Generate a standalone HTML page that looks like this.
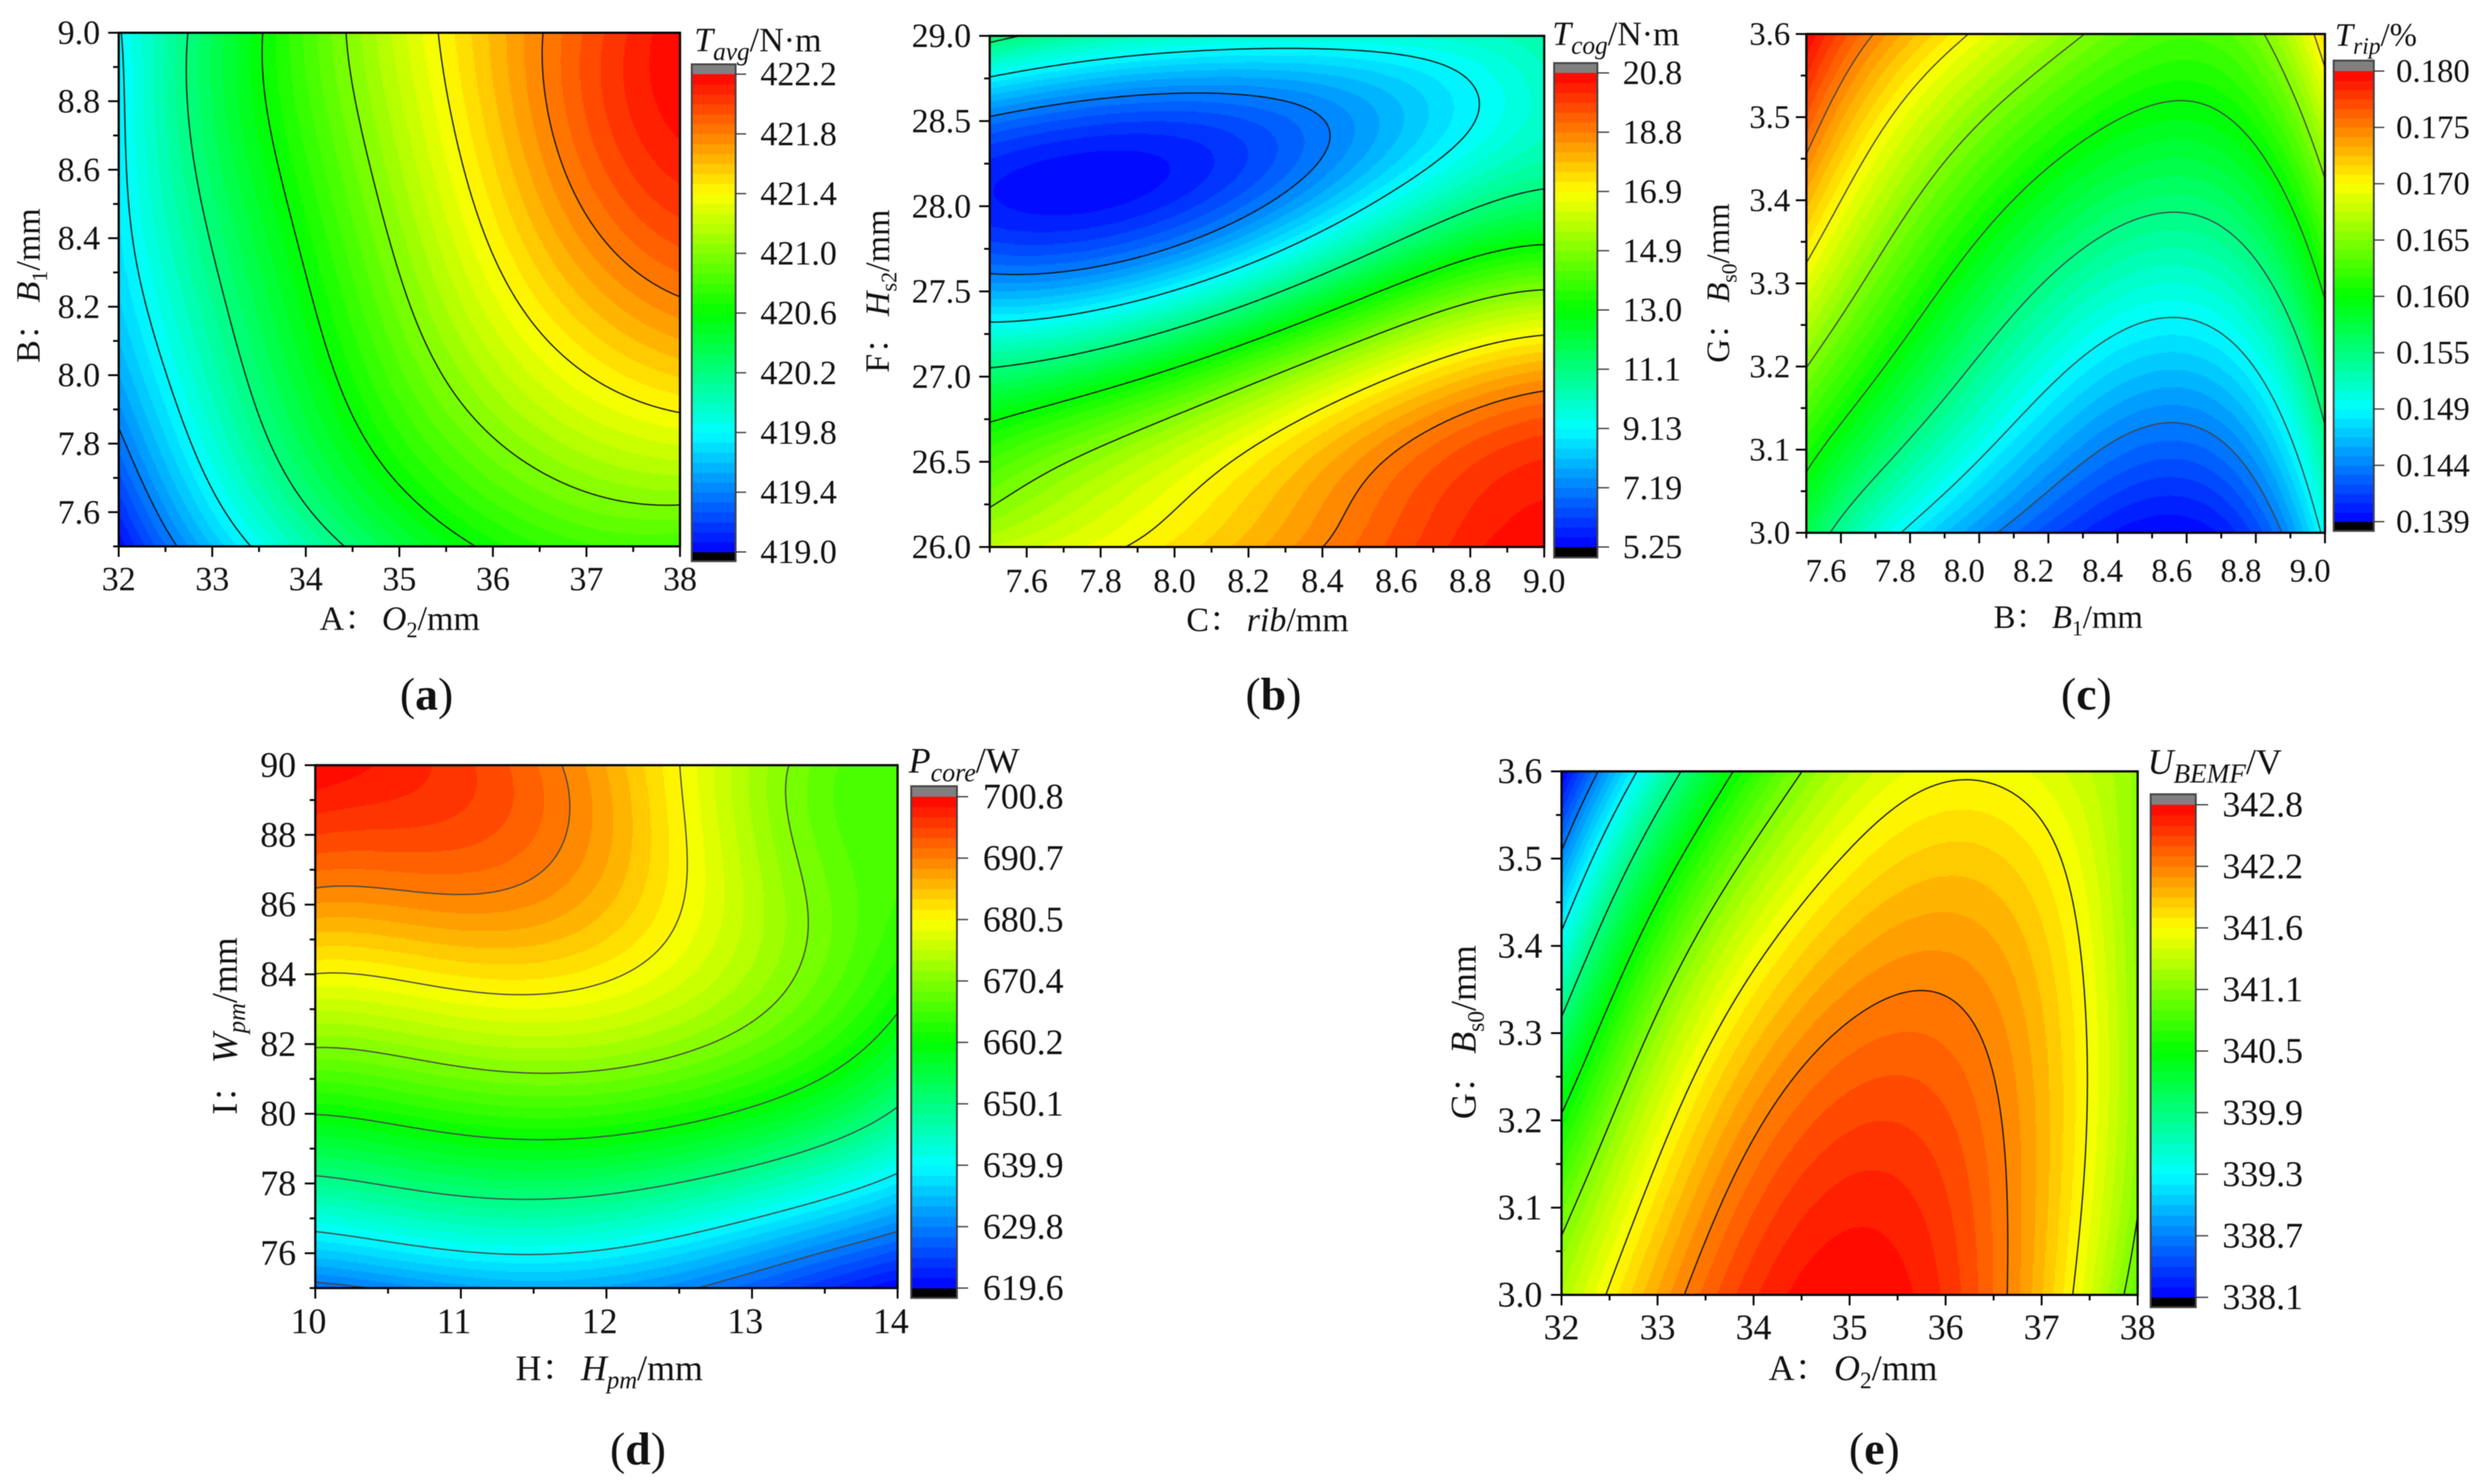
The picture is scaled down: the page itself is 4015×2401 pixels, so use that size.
<!DOCTYPE html>
<html lang="en">
<head>
<meta charset="utf-8">
<title>Response surface contour plots</title>
<style>
html,body{margin:0;padding:0;background:#fff;width:4015px;height:2401px;overflow:hidden}
svg{display:block;filter:blur(0.7px)}
text{font-family:"Liberation Serif","Noto Serif CJK SC",serif;fill:#111}
.i{font-style:italic}
</style>
</head>
<body>
<svg id="figure" xmlns="http://www.w3.org/2000/svg" width="4015" height="2401" viewBox="0 0 4015 2401">
<rect x="0" y="0" width="4015" height="2401" fill="#fff"/>
<g id="plots"></g>

<text x="517" y="1019" font-size="55" font-weight="normal">A：<tspan class="i" dx="6">O</tspan><tspan font-size="36" dy="12">2</tspan><tspan dy="-12">/mm</tspan></text>
<text x="1919" y="1021" font-size="55">C：<tspan class="i" dx="6">rib</tspan>/mm</text>
<text x="3225" y="1016" font-size="53">B：<tspan class="i" dx="6">B</tspan><tspan font-size="35" dy="12">1</tspan><tspan dy="-12">/mm</tspan></text>
<text x="834" y="2233" font-size="58">H：<tspan class="i" dx="6">H</tspan><tspan class="i" font-size="40" dy="13">pm</tspan><tspan dy="-13">/mm</tspan></text>
<text x="2861" y="2233" font-size="58">A：<tspan class="i" dx="6">O</tspan><tspan font-size="38" dy="13">2</tspan><tspan dy="-13">/mm</tspan></text>

<text transform="translate(64,462) rotate(-90)" text-anchor="middle" font-size="55">B：<tspan class="i" dx="6">B</tspan><tspan font-size="36" dy="12">1</tspan><tspan dy="-12">/mm</tspan></text>
<text transform="translate(1438,471) rotate(-90)" text-anchor="middle" font-size="55">F：<tspan class="i" dx="6">H</tspan><tspan font-size="36" dy="12">s2</tspan><tspan dy="-12">/mm</tspan></text>
<text transform="translate(2797,458) rotate(-90)" text-anchor="middle" font-size="53">G：<tspan class="i" dx="6">B</tspan><tspan font-size="35" dy="12">s0</tspan><tspan dy="-12">/mm</tspan></text>
<text transform="translate(383,1660) rotate(-90)" text-anchor="middle" font-size="58">I：<tspan class="i" dx="6">W</tspan><tspan class="i" font-size="40" dy="13">pm</tspan><tspan dy="-13">/mm</tspan></text>
<text transform="translate(2387,1670) rotate(-90)" text-anchor="middle" font-size="58">G：<tspan class="i" dx="6">B</tspan><tspan font-size="38" dy="13">s0</tspan><tspan dy="-13">/mm</tspan></text>

<text x="1123" y="83" font-size="55"><tspan class="i">T</tspan><tspan class="i" font-size="41" dy="14">avg</tspan><tspan dy="-14">/N·m</tspan></text>
<text x="2511" y="73" font-size="55"><tspan class="i">T</tspan><tspan class="i" font-size="41" dy="14">cog</tspan><tspan dy="-14">/N·m</tspan></text>
<text x="3777" y="74" font-size="53"><tspan class="i">T</tspan><tspan class="i" font-size="38" dy="13">rip</tspan><tspan dy="-13">/%</tspan></text>
<text x="1470" y="1250" font-size="58"><tspan class="i">P</tspan><tspan class="i" font-size="42" dy="14">core</tspan><tspan dy="-14">/W</tspan></text>
<text x="3474" y="1252" font-size="58"><tspan class="i">U</tspan><tspan class="i" font-size="44" dy="14">BEMF</tspan><tspan dy="-14">/V</tspan></text>

<text x="690" y="1148" font-size="74" text-anchor="middle">(<tspan font-weight="bold">a</tspan>)</text>
<text x="2060" y="1148" font-size="74" text-anchor="middle">(<tspan font-weight="bold">b</tspan>)</text>
<text x="3375" y="1148" font-size="74" text-anchor="middle">(<tspan font-weight="bold">c</tspan>)</text>
<text x="1032" y="2369" font-size="74" text-anchor="middle">(<tspan font-weight="bold">d</tspan>)</text>
<text x="3032" y="2369" font-size="74" text-anchor="middle">(<tspan font-weight="bold">e</tspan>)</text>
</svg>

<script>
// ---- Panel (a) data ----
const aXGrid = [32, 33, 34, 35, 36, 37, 38];
const aYGrid = [9.0, 8.75, 8.5, 8.25, 8.0, 7.75, 7.5];
const aZ = [
  [419.78, 420.34, 420.81, 421.23, 421.63, 421.94, 422.20],
  [419.76, 420.33, 420.76, 421.17, 421.58, 421.91, 422.15],
  [419.74, 420.25, 420.69, 421.08, 421.49, 421.85, 422.05],
  [419.65, 420.16, 420.59, 420.96, 421.35, 421.60, 421.80],
  [419.57, 420.00, 420.50, 420.85, 421.13, 421.43, 421.55],
  [419.28, 419.90, 420.30, 420.67, 420.95, 421.10, 421.20],
  [419.02, 419.60, 420.05, 420.38, 420.65, 420.78, 420.80]
];
const aXTicks = [32, 33, 34, 35, 36, 37, 38];
const aYTicks = [7.6, 7.8, 8.0, 8.2, 8.4, 8.6, 8.8, 9.0];
const aRange = [419.0, 422.2];
const aBarLabels = ["419.0", "419.4", "419.8", "420.2", "420.6", "421.0", "421.4", "421.8", "422.2"];

// ---- Panel (b) data ----
const bXGrid = [7.5, 7.75, 8.0, 8.25, 8.5, 8.75, 9.0];
const bYGrid = [29, 28.5, 28, 27.5, 27, 26.5, 26];
const bZ = [
  [11.45, 10.5, 10.0, 9.75, 9.75, 9.95, 10.4],
  [7.0, 6.4, 6.4, 6.6, 7.75, 8.75, 10.0],
  [5.7, 5.35, 5.9, 7.1, 8.75, 10.8, 11.55],
  [7.8, 8.28, 9.3, 11.1, 12.8, 14.15, 15.1],
  [11.45, 12.2, 13.15, 14.8, 16.3, 17.7, 18.4],
  [14.0, 15.3, 16.0, 17.7, 18.5, 19.6, 20.2],
  [16.0, 16.5, 17.4, 18.3, 19.1, 20.3, 20.9]
];
const bXTicks = [7.6, 7.8, 8.0, 8.2, 8.4, 8.6, 8.8, 9.0];
const bYTicks = [26.0, 26.5, 27.0, 27.5, 28.0, 28.5, 29.0];
const bRange = [5.25, 20.8];
const bBarLabels = ["5.25", "7.19", "9.13", "11.1", "13.0", "14.9", "16.9", "18.8", "20.8"];

// ---- Panel (c) data ----
const cXGrid = [7.5, 7.75, 8.0, 8.25, 8.5, 8.75, 9.0];
const cYGrid = [3.6, 3.5, 3.4, 3.3, 3.2, 3.1, 3.0];
const cZ = [
  [0.1800, 0.1737, 0.1690, 0.1655, 0.1628, 0.1630, 0.1715],
  [0.1765, 0.1708, 0.1638, 0.1617, 0.1590, 0.1598, 0.1673],
  [0.1726, 0.1662, 0.1605, 0.1580, 0.1550, 0.1560, 0.1640],
  [0.1686, 0.1625, 0.1573, 0.1533, 0.1513, 0.1522, 0.1600],
  [0.1648, 0.1594, 0.1537, 0.1495, 0.1473, 0.1480, 0.1570],
  [0.1605, 0.1550, 0.1497, 0.1453, 0.1430, 0.1446, 0.1533],
  [0.1565, 0.1500, 0.1445, 0.1415, 0.1393, 0.1405, 0.1500]
];
const cXTicks = [7.6, 7.8, 8.0, 8.2, 8.4, 8.6, 8.8, 9.0];
const cYTicks = [3.0, 3.1, 3.2, 3.3, 3.4, 3.5, 3.6];
const cRange = [0.139, 0.180];
const cBarLabels = ["0.139", "0.144", "0.149", "0.155", "0.160", "0.165", "0.170", "0.175", "0.180"];

// ---- Panel (d) data ----
const dXGrid = [10, 10.5, 11, 11.5, 12, 12.5, 13, 13.5, 14];
const dYGrid = [90, 87.5, 85, 82.5, 80, 77.5, 75];
const dZ = [
  [700.5, 699.0, 696.0, 692.5, 687.6, 680.8, 673.0, 668.0, 665.5],
  [694.2, 694.3, 693.5, 692.0, 687.0, 681.0, 674.0, 669.0, 665.5],
  [684.7, 685.2, 685.8, 686.0, 684.8, 680.5, 673.8, 668.7, 664.2],
  [673.3, 674.5, 676.2, 676.9, 675.7, 673.4, 669.7, 665.5, 659.0],
  [660.4, 661.6, 662.8, 664.2, 663.3, 661.5, 659.6, 655.5, 649.2],
  [645.5, 647.6, 649.2, 650.1, 649.4, 646.7, 643.4, 639.0, 635.1],
  [628.5, 630.4, 632.2, 633.3, 632.7, 630.4, 627.0, 623.5, 619.8]
];
const dXTicks = [10, 11, 12, 13, 14];
const dYTicks = [76, 78, 80, 82, 84, 86, 88, 90];
const dRange = [619.6, 700.8];
const dBarLabels = ["619.6", "629.8", "639.9", "650.1", "660.2", "670.4", "680.5", "690.7", "700.8"];

// ---- Panel (e) data ----
const eXGrid = [32, 33, 34, 35, 36, 37, 38];
const eYGrid = [3.6, 3.5, 3.4, 3.3, 3.2, 3.1, 3.0];
const eZ = [
  [338.10, 339.57, 340.65, 341.30, 341.57, 341.50, 341.10],
  [338.70, 340.10, 341.20, 341.70, 341.85, 341.75, 341.08],
  [339.40, 340.75, 341.40, 342.00, 342.08, 341.85, 341.12],
  [339.98, 341.25, 341.80, 342.27, 342.30, 341.90, 341.10],
  [340.47, 341.47, 342.15, 342.50, 342.45, 341.95, 341.10],
  [340.90, 341.75, 342.40, 342.65, 342.55, 341.98, 341.10],
  [341.25, 342.07, 342.55, 342.80, 342.60, 341.90, 340.85]
];
const eXTicks = [32, 33, 34, 35, 36, 37, 38];
const eYTicks = [3.0, 3.1, 3.2, 3.3, 3.4, 3.5, 3.6];
const eRange = [338.1, 342.8];
const eBarLabels = ["338.1", "338.7", "339.3", "339.9", "340.5", "341.1", "341.6", "342.2", "342.8"];

// ---- Layout (pixels and styling only) ----
const LEVELS = 48;
const layouts = {
  a: {l:192, r:1100, t:53, b:884, barL:1119, barR:1190, barTop:104, barHi:120, barLo:893, barBot:908, barTickEnd:1207, barLabelX:1230, font:55, xBase:955, xDx:0, yEnd:162, dec:0, yDec:1, line:'#111', fitX:4, fitY:4},
  b: {l:1601, r:2498, t:58, b:885, barL:2514, barR:2584, barTop:102, barHi:118, barLo:885, barBot:902, barTickEnd:2603, barLabelX:2625, font:55, xBase:958, xDx:0, yEnd:1571, dec:1, yDec:1, line:'#111', fitX:4, fitY:5},
  c: {l:2922, r:3761, t:55, b:862, barL:3775, barR:3840, barTop:98, barHi:115, barLo:844, barBot:859, barTickEnd:3857, barLabelX:3876, font:53, xBase:941, xDx:-24, yEnd:2896, dec:1, yDec:1, line:'#444', fitX:4, fitY:3},
  d: {l:510, r:1452, t:1238, b:2084, barL:1474, barR:1548, barTop:1272, barHi:1289, barLo:2084, barBot:2100, barTickEnd:1566, barLabelX:1590, font:58, xBase:2157, xDx:-11, yEnd:479, dec:0, yDec:0, line:'#444', fitX:5, fitY:4},
  e: {l:2526, r:3458, t:1248, b:2095, barL:3479, barR:3552, barTop:1285, barHi:1302, barLo:2099, barBot:2115, barTickEnd:3572, barLabelX:3595, font:58, xBase:2167, xDx:0, yEnd:2495, dec:0, yDec:1, line:'#111', fitX:4, fitY:3}
};

const panels = [
  {id:'a', xg:aXGrid, yg:aYGrid, z:aZ, xt:aXTicks, yt:aYTicks, range:aRange, barLabels:aBarLabels},
  {id:'b', xg:bXGrid, yg:bYGrid, z:bZ, xt:bXTicks, yt:bYTicks, range:bRange, barLabels:bBarLabels},
  {id:'c', xg:cXGrid, yg:cYGrid, z:cZ, xt:cXTicks, yt:cYTicks, range:cRange, barLabels:cBarLabels},
  {id:'d', xg:dXGrid, yg:dYGrid, z:dZ, xt:dXTicks, yt:dYTicks, range:dRange, barLabels:dBarLabels},
  {id:'e', xg:eXGrid, yg:eYGrid, z:eZ, xt:eXTicks, yt:eYTicks, range:eRange, barLabels:eBarLabels}
];

const NS = 'http://www.w3.org/2000/svg';
function make(tag, parent, attrs) {
  const n = document.createElementNS(NS, tag);
  for (const k in attrs) n.setAttribute(k, attrs[k]);
  parent.appendChild(n);
  return n;
}
function rainbow(t) {
  t = Math.max(0, Math.min(1, t));
  let r, g, b;
  if (t < 0.25) { r = 0; g = t / 0.25; b = 1; }
  else if (t < 0.5) { r = 0; g = 1; b = 1 - (t - 0.25) / 0.25; }
  else if (t < 0.75) { r = (t - 0.5) / 0.25; g = 1; b = 0; }
  else { r = 1; g = 1 - (t - 0.75) / 0.25; b = 0; }
  return 'rgb(' + Math.round(r * 255) + ',' + Math.round(g * 255) + ',' + Math.round(b * 255) + ')';
}
// Least-squares smooth surface through the values
function solve(A, b) {
  const n = b.length;
  for (let i = 0; i < n; i++) {
    let piv = i;
    for (let r = i + 1; r < n; r++) if (Math.abs(A[r][i]) > Math.abs(A[piv][i])) piv = r;
    const tmp = A[i]; A[i] = A[piv]; A[piv] = tmp;
    const tb = b[i]; b[i] = b[piv]; b[piv] = tb;
    for (let r = i + 1; r < n; r++) {
      const m = A[r][i] / A[i][i];
      for (let c = i; c < n; c++) A[r][c] -= m * A[i][c];
      b[r] -= m * b[i];
    }
  }
  const out = new Array(n).fill(0);
  for (let i = n - 1; i >= 0; i--) {
    let s = b[i];
    for (let c = i + 1; c < n; c++) s -= A[i][c] * out[c];
    out[i] = s / A[i][i];
  }
  return out;
}
function surface(zGrid, degX, degY) {
  const rows = zGrid.length, cols = zGrid[0].length;
  const mean = zGrid.reduce(function (s, r) { return s + r.reduce(function (a, b) { return a + b; }, 0); }, 0) / (rows * cols);
  const scale = Math.max.apply(null, zGrid.map(function (r) { return Math.max.apply(null, r); })) - mean;
  const n = (degX + 1) * (degY + 1);
  const basis = function (u, v) {
    const out = [];
    let pv = 1;
    for (let j = 0; j <= degY; j++) {
      let pu = 1;
      for (let i = 0; i <= degX; i++) { out.push(pu * pv); pu *= u; }
      pv *= v;
    }
    return out;
  };
  const A = [], B = new Array(n).fill(0);
  for (let i = 0; i < n; i++) A.push(new Array(n).fill(0));
  for (let r = 0; r < rows; r++) {
    for (let c = 0; c < cols; c++) {
      const phi = basis(2 * c / (cols - 1) - 1, 2 * r / (rows - 1) - 1);
      const val = (zGrid[r][c] - mean) / scale;
      for (let i = 0; i < n; i++) {
        B[i] += phi[i] * val;
        for (let j = 0; j < n; j++) A[i][j] += phi[i] * phi[j];
      }
    }
  }
  const coef = solve(A, B);
  return function (u, v) {
    const phi = basis(u, v);
    let s = 0;
    for (let i = 0; i < n; i++) s += coef[i] * phi[i];
    return mean + s * scale;
  };
}
function fmt(v, d) { return v.toFixed(d); }

const root = document.getElementById('plots');

panels.forEach(function (p) {
  const L = layouts[p.id];
  const group = make('g', root, {});
  
  

  const x0 = p.xg[0], x1 = p.xg[p.xg.length - 1];
  const yTop = p.yg[0], yBot = p.yg[p.yg.length - 1];
  const xScale = function (v) { return L.l + (v - x0) / (x1 - x0) * (L.r - L.l); };
  const yScale = function (v) { return L.t + (yTop - v) / (yTop - yBot) * (L.b - L.t); };
  const f = surface(p.z, L.fitX, L.fitY);
  const W = L.r - L.l, H = L.b - L.t;
  const zAt = function (px, py) { return f(2 * px / W - 1, 2 * py / H - 1); };
  const zMin = p.range[0], zMax = p.range[1];
  const levelOf = function (z) {
    return Math.max(0, Math.min(LEVELS - 1, Math.floor((z - zMin) / (zMax - zMin) * LEVELS)));
  };

  // filled contour bands as run-length strips, one path per level
  const strips = [];
  for (let i = 0; i < LEVELS; i++) strips.push([]);
  const step = 2;
  for (let py = 0; py < H; py += step) {
    let start = 0, cur = levelOf(zAt(1, py + 1));
    for (let px = step; ; px += step) {
      if (px >= W) {
        strips[cur].push('M' + (L.l + start) + ' ' + (L.t + py) + 'h' + (W - start) + 'v' + step + 'h' + (start - W) + 'z');
        break;
      }
      const lv = levelOf(zAt(px + 1, py + 1));
      if (lv !== cur) {
        strips[cur].push('M' + (L.l + start) + ' ' + (L.t + py) + 'h' + (px - start) + 'v' + step + 'h' + (start - px) + 'z');
        start = px;
        cur = lv;
      }
    }
  }
  const fillGroup = make('g', group, {'shape-rendering': 'crispEdges'});
  
  
  strips.forEach(function (s, i) {
    if (!s.length) return;
    const band = make('path', fillGroup, {d: s.join(''), fill: rainbow((i + 0.5) / LEVELS)});
    
    
  });

  // contour lines by marching squares at each colour-bar tick value
  const cell = 4;
  const nx = Math.floor(W / cell), ny = Math.floor(H / cell);
  const dx = W / nx, dy = H / ny;
  const field = [];
  for (let j = 0; j <= ny; j++) {
    const r = [];
    for (let i = 0; i <= nx; i++) r.push(zAt(i * dx, j * dy));
    field.push(r);
  }
  const nTicks = p.barLabels.length;
  const lineGroup = make('g', group, {fill: 'none', stroke: L.line, 'stroke-width': 2, 'stroke-linecap': 'round'});
  
  
  for (let k = 1; k < nTicks - 1; k++) {
    const level = zMin + (zMax - zMin) * k / (nTicks - 1);
    let d = '';
    for (let j = 0; j < ny; j++) {
      for (let i = 0; i < nx; i++) {
        const a = field[j][i], b = field[j][i + 1], c = field[j + 1][i + 1], e = field[j + 1][i];
        const pts = [];
        if ((a < level) !== (b < level)) pts.push([i + (level - a) / (b - a), j]);
        if ((b < level) !== (c < level)) pts.push([i + 1, j + (level - b) / (c - b)]);
        if ((e < level) !== (c < level)) pts.push([i + (level - e) / (c - e), j + 1]);
        if ((a < level) !== (e < level)) pts.push([i, j + (level - a) / (e - a)]);
        for (let q = 0; q + 1 < pts.length; q += 2) {
          d += 'M' + (L.l + pts[q][0] * dx).toFixed(1) + ' ' + (L.t + pts[q][1] * dy).toFixed(1) +
               'L' + (L.l + pts[q + 1][0] * dx).toFixed(1) + ' ' + (L.t + pts[q + 1][1] * dy).toFixed(1);
        }
      }
    }
    const contour = make('path', lineGroup, {d: d});
    
    
  }

  // plot frame
  const frame = make('rect', group, {x: L.l, y: L.t, width: W, height: H, fill: 'none', stroke: '#000', 'stroke-width': 3.5});
  
  

  // x axis ticks
  const xStep = p.xt[1] - p.xt[0];
  p.xt.forEach(function (v) {
    const X = xScale(v);
    const tick = make('line', group, {x1: X, x2: X, y1: L.b, y2: L.b + 17, stroke: '#000', 'stroke-width': 3});
    
    
    const label = make('text', group, {x: X + L.xDx, y: L.xBase, 'font-size': L.font, 'text-anchor': 'middle'});
    label.textContent = fmt(v, L.dec);
    
    
    const mv = v - xStep / 2;
    if (mv >= x0 - 1e-9) {
      const minor = make('line', group, {x1: xScale(mv), x2: xScale(mv), y1: L.b, y2: L.b + 9, stroke: '#000', 'stroke-width': 3});
      
      
    }
  });

  // y axis ticks
  const yStep = p.yt[1] - p.yt[0];
  p.yt.forEach(function (v) {
    const Y = yScale(v);
    const tick = make('line', group, {x1: L.l - 17, x2: L.l, y1: Y, y2: Y, stroke: '#000', 'stroke-width': 3});
    
    
    const label = make('text', group, {x: L.yEnd, y: Y + L.font * 0.33, 'font-size': L.font, 'text-anchor': 'end'});
    label.textContent = fmt(v, L.yDec);
    
    
    const mv = v - yStep / 2;
    if (mv >= yBot - 1e-9) {
      const minor = make('line', group, {x1: L.l - 9, x2: L.l, y1: yScale(mv), y2: yScale(mv), stroke: '#000', 'stroke-width': 3});
      
      
    }
  });

  // colour bar
  const bar = make('g', group, {});
  
  
  const over = make('rect', bar, {x: L.barL, y: L.barTop, width: L.barR - L.barL, height: L.barHi - L.barTop, fill: '#808080'});
  
  
  const under = make('rect', bar, {x: L.barL, y: L.barLo, width: L.barR - L.barL, height: L.barBot - L.barLo, fill: '#000'});
  
  
  const bandH = (L.barLo - L.barHi) / LEVELS;
  for (let i = 0; i < LEVELS; i++) {
    const yy = L.barLo - (i + 1) * bandH;
    const swatch = make('rect', bar, {x: L.barL, y: yy, width: L.barR - L.barL, height: bandH + 0.6, fill: rainbow((i + 0.5) / LEVELS), 'shape-rendering': 'crispEdges'});
    
    
  }
  const barFrame = make('rect', bar, {x: L.barL, y: L.barTop, width: L.barR - L.barL, height: L.barBot - L.barTop, fill: 'none', stroke: '#444', 'stroke-width': 3});
  
  
  p.barLabels.forEach(function (txt, i) {
    const Y = L.barLo - (L.barLo - L.barHi) * i / (nTicks - 1);
    const tick = make('line', bar, {x1: L.barR, x2: L.barTickEnd, y1: Y, y2: Y, stroke: '#333', 'stroke-width': 2});
    
    
    const label = make('text', bar, {x: L.barLabelX, y: Y + L.font * 0.33, 'font-size': L.font});
    label.textContent = txt;
    
    
  });
});
</script>
</body>
</html>
